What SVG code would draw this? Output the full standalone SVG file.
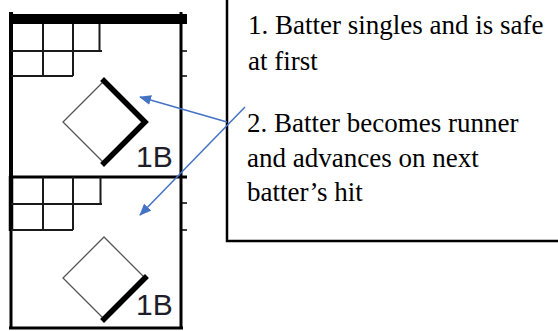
<svg xmlns="http://www.w3.org/2000/svg" width="558" height="331" viewBox="0 0 558 331">
<style>
.frame{stroke:#000;fill:none}
.grid{stroke:#1a1a1a;stroke-width:2;fill:none}
.thin{stroke:#555;stroke-width:1.3;fill:none}
.thick{stroke:#000;stroke-width:5.5;fill:none;stroke-linecap:square}
.lbl{font-family:"Liberation Sans",Arial,sans-serif;font-size:30px;fill:#1e1e2a}
.note{font-family:"Liberation Serif","Times New Roman",serif;font-size:27px;fill:#000}
.conn{stroke:#4472C4;stroke-width:1.5;fill:none}
</style>
<defs>
<marker id="ah" viewBox="0 0 12 10" refX="11" refY="5" markerWidth="12" markerHeight="10" markerUnits="userSpaceOnUse" orient="auto">
<path d="M0,0 L12,5 L0,10 Z" fill="#4472C4"/>
</marker>
</defs>
<rect width="558" height="331" fill="#fff"/>
<g id="scorecard">
<rect x="9" y="14" width="178" height="10" fill="#000"/>
<line class="frame" x1="11" y1="12" x2="11" y2="178" stroke-width="4"/>
<line class="frame" x1="11" y1="176" x2="11" y2="231" stroke-width="4.5"/>
<line class="frame" x1="11" y1="230" x2="11" y2="329" stroke-width="3"/>
<line class="frame" x1="181" y1="12" x2="181" y2="329" stroke-width="3"/>
<line class="frame" x1="9" y1="177" x2="187" y2="177" stroke-width="3"/>
<line class="frame" x1="9" y1="328" x2="183" y2="328" stroke-width="3"/>
<g class="frame" stroke-width="1.5">
<line x1="181" y1="51" x2="187" y2="51"/>
<line x1="181" y1="76" x2="187" y2="76"/>
<line x1="181" y1="203" x2="187" y2="203"/>
<line x1="181" y1="230" x2="187" y2="230"/>
</g>
</g>
<g id="box1">
<path class="grid" d="M11,51 H102 M11,76 H73 M43,24 V76 M73,24 V76 M99.5,24 V51"/>
<path class="thin" d="M104,81 L63,122 L104,163"/>
<path class="thick" d="M104,81 L145,122 L104,163"/>
<text class="lbl" x="136" y="167">1B</text>
</g>
<g id="box2">
<path class="grid" d="M11,204 H102 M11,230 H73 M43,177 V230 M73,177 V230 M100.5,177 V204"/>
<path class="thin" d="M145,278 L104,237 L63,278 L104,319"/>
<path class="thick" d="M145,278 L104,319"/>
<text class="lbl" x="136" y="315">1B</text>
</g>
<g id="notes">
<path class="frame" stroke-width="2.5" d="M227,0 V241 H558"/>
<text class="note" x="248" y="34">1. Batter singles and is safe</text>
<text class="note" x="248" y="70">at first</text>
<text class="note" x="247" y="132">2. Batter becomes runner</text>
<text class="note" x="247" y="167">and advances on next</text>
<text class="note" x="247" y="201">batter’s hit</text>
</g>
<g id="connectors">
<line class="conn" x1="227" y1="122" x2="140" y2="97" marker-end="url(#ah)"/>
<line class="conn" x1="245" y1="107" x2="140" y2="215" marker-end="url(#ah)"/>
</g>
</svg>
